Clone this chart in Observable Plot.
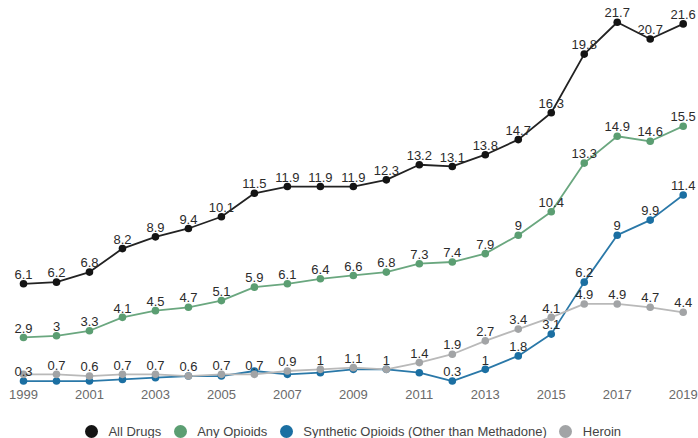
<!DOCTYPE html>
<html><head><meta charset="utf-8">
<script src="https://cdn.jsdelivr.net/npm/d3@7"></script>
<script src="https://cdn.jsdelivr.net/npm/@observablehq/plot@0.6"></script>
<style>
body{margin:0;background:#fff;font-family:"Liberation Sans",Arial,sans-serif;}
#legend{display:flex;justify-content:center;align-items:center;height:34px;font-size:13px;color:#444;padding-left:8px;}
.item{display:flex;align-items:center;margin:0 6.25px;}
.sw{width:13px;height:13px;border-radius:50%;margin-right:10.5px;}
</style></head><body><div id="chart"></div><div id="legend"></div>
<script>
const years = [1999,2000,2001,2002,2003,2004,2005,2006,2007,2008,2009,2010,2011,2012,2013,2014,2015,2016,2017,2018,2019];
const xTicks = [1999,2001,2003,2005,2007,2009,2011,2013,2015,2017,2019];
const seriesNames = ["All Drugs","Any Opioids","Synthetic Opioids (Other than Methadone)","Heroin"];
const allDrugs = [6.1,6.2,6.8,8.2,8.9,9.4,10.1,11.5,11.9,11.9,11.9,12.3,13.2,13.1,13.8,14.7,16.3,19.8,21.7,20.7,21.6];
const anyOpioids = [2.9,3,3.3,4.1,4.5,4.7,5.1,5.9,6.1,6.4,6.6,6.8,7.3,7.4,7.9,9,10.4,13.3,14.9,14.6,15.5];
const synthetic = [0.3,0.3,0.3,0.4,0.5,0.6,0.6,0.9,0.7,0.8,1,1,0.8,0.3,1,1.8,3.1,6.2,9,9.9,11.4];
const heroin = [0.7,0.7,0.6,0.7,0.7,0.6,0.7,0.7,0.9,1,1.1,1,1.4,1.9,2.7,3.4,4.1,4.9,4.9,4.7,4.4];
// years whose value labels are shown in the reference
const syntheticLabelYears = [1999,2012,2013,2014,2015,2016,2017,2018,2019];
const heroinLabelYears = [2000,2001,2002,2003,2004,2005,2006,2007,2008,2009,2010,2011,2012,2013,2014,2015,2016,2017,2018,2019];
const colors = ["#141414","#5b9e72","#1b6fa2","#a2a4a6"];
const lineColors = ["#222222","#6aa77f","#2a78a8","#b9b9b9"];

const valuesList = [allDrugs, anyOpioids, synthetic, heroin];
const labelFilter = [null, null, syntheticLabelYears, heroinLabelYears];

const marks = [];
const order = [0,1,2,3];
const seriesData = valuesList.map((vals,i)=>years.map((y,j)=>({year:y,value:vals[j],series:seriesNames[i]})));
for (const i of order) {
  marks.push(Plot.line(seriesData[i], {x:"year", y:"value", stroke: lineColors[i], strokeWidth: 1.8}));
}
for (const i of order) {
  marks.push(Plot.dot(seriesData[i], {x:"year", y:"value", fill: colors[i], r: 3.8, stroke: "none"}));
}
for (const i of order) {
  const f = labelFilter[i];
  const d = f ? seriesData[i].filter(p=>f.includes(p.year)) : seriesData[i];
  marks.push(Plot.text(d, {x:"year", y:"value", text: p=>String(p.value), dy:-9, fill:"#2b2b2b", fontSize:13}));
}
marks.push(Plot.axisX({ticks: xTicks, tickSize: 0, tickPadding: 4, tickFormat: d=>String(d), fill:"#6a6a6a", fontSize:13, label: null}));

const chart = Plot.plot({
  width: 698, height: 414,
  marginTop: 16.7, marginBottom: 28.4, marginLeft: 23, marginRight: 15.3,
  style: {fontFamily: '"Liberation Sans", Arial, sans-serif', fontSize: "13px", background: "#fff"},
  x: {domain: [1999, 2019], axis: null, label: null},
  y: {domain: [0, 22], axis: null},
  marks
});
document.getElementById("chart").appendChild(chart);

const legend = document.getElementById("legend");
seriesNames.forEach((name,i)=>{
  const item = document.createElement("div"); item.className="item";
  const sw = document.createElement("span"); sw.className="sw"; sw.style.background = colors[i];
  const t = document.createElement("span"); t.textContent = name;
  item.appendChild(sw); item.appendChild(t); legend.appendChild(item);
});
</script></body></html>
